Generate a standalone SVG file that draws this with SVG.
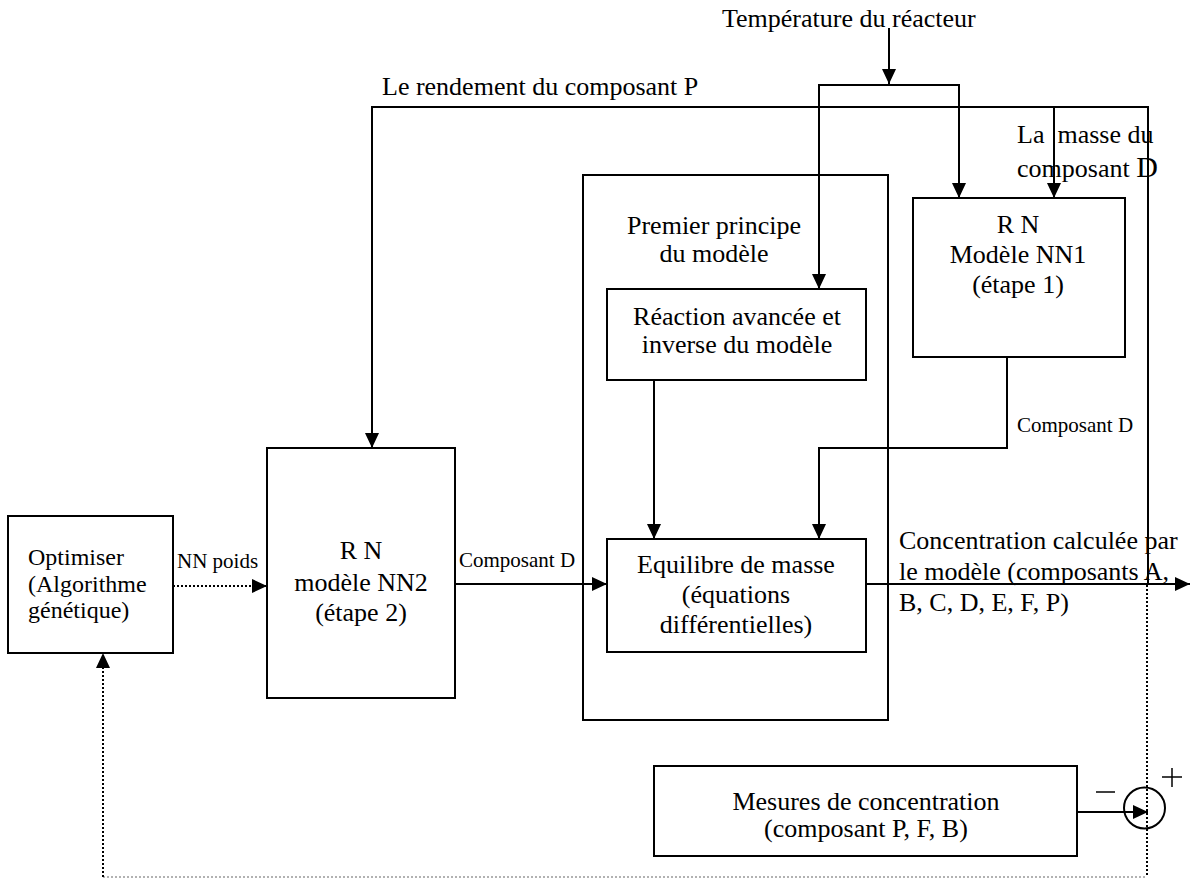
<svg xmlns="http://www.w3.org/2000/svg" width="1190" height="879" viewBox="0 0 1190 879">
<defs>
<style>
.box{fill:#fff;stroke:#000;stroke-width:2}
.ln{fill:none;stroke:#000;stroke-width:2}
.dot{fill:none;stroke:#000;stroke-width:2;stroke-dasharray:2 2}
.dotg{fill:none;stroke:#999;stroke-width:1.5;stroke-dasharray:2 2}
.t{font-family:"Liberation Serif","Times New Roman",serif;font-size:26px;fill:#000}
.to{font-family:"Liberation Serif","Times New Roman",serif;font-size:24px;fill:#000}
.s{font-family:"Liberation Serif","Times New Roman",serif;font-size:21px;fill:#000}
.c{text-anchor:middle}
</style>
<marker id="ah" viewBox="0 0 15 14" refX="15" refY="7" markerWidth="15" markerHeight="14" markerUnits="userSpaceOnUse" orient="auto">
<path d="M0,0 L15,7 L0,14 Z" fill="#000"/>
</marker>
</defs>
<rect width="1190" height="879" fill="#fff"/>

<g id="opt">
<rect class="box" x="8" y="516" width="165" height="137"/>
<text class="to" x="28" y="565">Optimiser</text>
<text class="to" x="28" y="592">(Algorithme</text>
<text class="to" x="28" y="618">génétique)</text>
</g>

<g id="nn2">
<rect class="box" x="267" y="448" width="188" height="250"/>
<text class="t c" x="361" y="559">R N</text>
<text class="t c" x="361" y="591">modèle NN2</text>
<text class="t c" x="361" y="621">(étape 2)</text>
</g>

<g id="premier">
<rect class="box" x="583" y="175" width="305" height="545"/>
<text class="t c" x="714" y="234">Premier principe</text>
<text class="t c" x="714" y="262">du modèle</text>
</g>

<g id="reaction">
<rect class="box" x="607" y="289" width="259" height="91"/>
<text class="t c" x="737" y="325">Réaction avancée et</text>
<text class="t c" x="737" y="353">inverse du modèle</text>
</g>

<g id="equilibre">
<rect class="box" x="607" y="539" width="259" height="113"/>
<text class="t c" x="736" y="573">Equilibre de masse</text>
<text class="t c" x="736" y="603">(équations</text>
<text class="t c" x="736" y="633">différentielles)</text>
</g>

<g id="nn1">
<rect class="box" x="913" y="198" width="212" height="159"/>
<text class="t c" x="1018" y="233">R N</text>
<text class="t c" x="1018" y="263">Modèle NN1</text>
<text class="t c" x="1018" y="293">(étape 1)</text>
</g>

<g id="mesures">
<rect class="box" x="654" y="766" width="423" height="90"/>
<text class="t c" x="866" y="810">Mesures de concentration</text>
<text class="t c" x="866" y="837">(composant P, F, B)</text>
</g>

<g id="sum">
<circle cx="1144.5" cy="808" r="20.5" fill="none" stroke="#000" stroke-width="2"/>
<line x1="1096" y1="792" x2="1115" y2="792" stroke="#000" stroke-width="1.5"/>
<line x1="1162" y1="777" x2="1182" y2="777" stroke="#000" stroke-width="1.5"/>
<line x1="1172" y1="768" x2="1172" y2="787" stroke="#000" stroke-width="1.5"/>
</g>

<g id="connectors">
<path class="ln" d="M889,28 V84" marker-end="url(#ah)"/>
<path class="ln" d="M889,85 H819 V289" marker-end="url(#ah)"/>
<path class="ln" d="M889,85 H959 V198" marker-end="url(#ah)"/>
<path class="ln" d="M1148,585 V107 H372 V448" marker-end="url(#ah)"/>
<path class="ln" d="M1054,107 V198" marker-end="url(#ah)"/>
<path class="ln" d="M1007,357 V448 H819 V539" marker-end="url(#ah)"/>
<path class="ln" d="M654,380 V539" marker-end="url(#ah)"/>
<path class="ln" d="M455,584 H607" marker-end="url(#ah)"/>
<path class="dot" d="M173,586 H267" marker-end="url(#ah)"/>
<path class="ln" d="M866,584 H1190" marker-end="url(#ah)"/>
<path class="ln" d="M1077,812 H1148" marker-end="url(#ah)"/>
<path class="dot" d="M1147,585 V877"/>
<path class="dotg" d="M103,877 H1147"/>
<path class="dot" d="M103,877 V653" marker-end="url(#ah)"/>
</g>

<g id="labels">
<text class="t" x="722" y="27">Température du réacteur</text>
<text class="t" x="382" y="95">Le rendement du composant P</text>
<text class="t" x="1017" y="143" xml:space="preserve">La  masse du</text>
<text class="t" x="1017" y="177">composant <tspan font-size="30">D</tspan></text>
<text class="s" x="1017" y="432">Composant D</text>
<text class="s" x="459" y="567">Composant D</text>
<text class="s" x="177" y="568">NN poids</text>
<text class="t" x="899" y="549">Concentration calculée par</text>
<text class="t" x="899" y="580">le modèle (composants A,</text>
<text class="t" x="899" y="611">B, C, D, E, F, P)</text>
</g>
</svg>
